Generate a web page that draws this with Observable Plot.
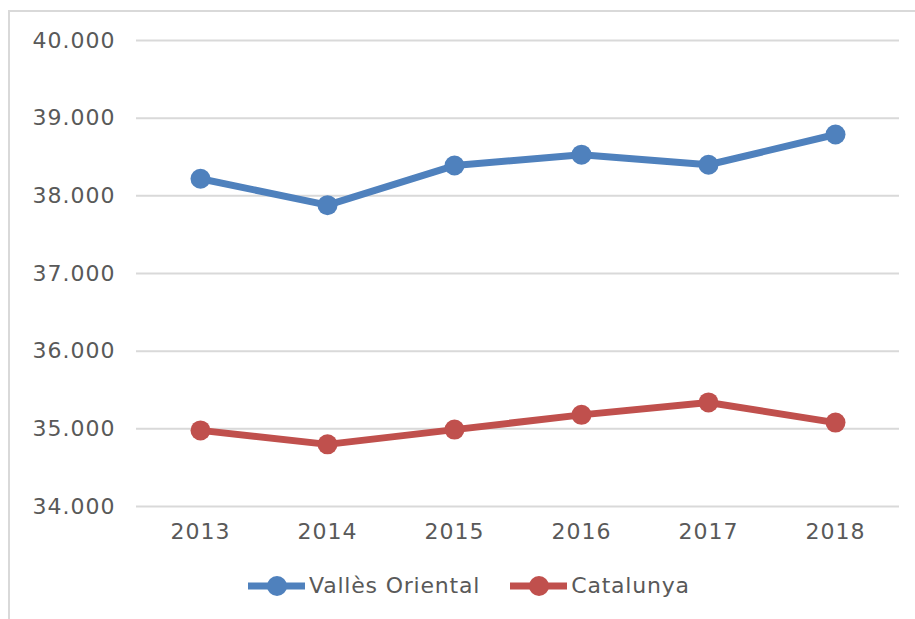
<!DOCTYPE html>
<html>
<head>
<meta charset="utf-8">
<script src="https://cdn.jsdelivr.net/npm/d3@7"></script>
<script src="https://cdn.jsdelivr.net/npm/@observablehq/plot@0.6"></script>
<style>
  html, body { margin: 0; padding: 0; background: #fff; }
  #wrap { position: relative; width: 915px; height: 619px; overflow: hidden; }
  #frame { position: absolute; left: 8px; top: 10px; right: -10px; bottom: -10px;
           border-left: 2px solid #d9d9d9; border-top: 2px solid #d9d9d9; }
  #chart { position: absolute; left: 0; top: 0; }
  #chart svg text { letter-spacing: 1px; }
  #legend { position: absolute; left: 248px; top: 573px; display: flex; align-items: center;
            font-family: "DejaVu Sans", sans-serif; font-size: 22px; color: #595959; letter-spacing: 0.8px; }
  .item { display: flex; align-items: center; margin-right: 30px; }
  .item svg { margin-right: 4px; }
</style>
</head>
<body>
<div id="wrap">
  <div id="frame"></div>
  <div id="chart"></div>
  <div id="legend"></div>
</div>
<script>
const years = ["2013", "2014", "2015", "2016", "2017", "2018"];
const seriesNames = ["Vallès Oriental", "Catalunya"];
const seriesColors = ["#4f81bd", "#c0504d"];
const vallesOriental = [38220, 37880, 38390, 38530, 38400, 38790];
const catalunya = [34980, 34800, 34990, 35180, 35340, 35080];
const yTicks = [34000, 35000, 36000, 37000, 38000, 39000, 40000];

const locale = d3.formatLocale({decimal: ",", thousands: ".", grouping: [3], currency: ["", " €"]});
const fmt = locale.format(",.0f");

const seriesValues = [vallesOriental, catalunya];
const data = [];
seriesNames.forEach((name, i) => {
  years.forEach((yr, j) => data.push({series: name, year: yr, value: seriesValues[i][j]}));
});

const plot = Plot.plot({
  width: 915,
  height: 566,
  marginLeft: 136,
  marginRight: 16,
  marginTop: 40,
  marginBottom: 60,
  style: {fontFamily: "DejaVu Sans, sans-serif", fontSize: "22px", color: "#595959", background: "transparent"},
  x: {type: "point", domain: years, padding: 0.5, tickSize: 0, tickPadding: 17, label: null},
  y: {domain: [34000, 40000], ticks: yTicks, tickFormat: fmt, tickSize: 0, tickPadding: 21, label: null},
  color: {domain: seriesNames, range: seriesColors},
  marks: [
    Plot.gridY(yTicks, {stroke: "#d9d9d9", strokeOpacity: 1, strokeWidth: 2}),
    Plot.lineY(data, {x: "year", y: "value", z: "series", stroke: "series", strokeWidth: 7, strokeLinejoin: "round", curve: "linear"}),
    Plot.dot(data, {x: "year", y: "value", fill: "series", r: 10, stroke: null})
  ]
});
document.getElementById("chart").appendChild(plot);

const legend = document.getElementById("legend");
seriesNames.forEach((name, i) => {
  const item = document.createElement("div");
  item.className = "item";
  item.innerHTML = `<svg width="57" height="24"><line x1="1" x2="56" y1="12" y2="12" stroke="${seriesColors[i]}" stroke-width="7" stroke-linecap="round"/><circle cx="29" cy="12" r="10" fill="${seriesColors[i]}"/></svg><span>${name}</span>`;
  legend.appendChild(item);
});
</script>
</body>
</html>
